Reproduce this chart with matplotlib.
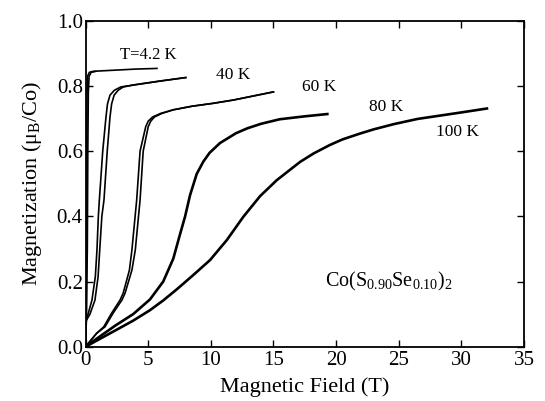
import matplotlib
matplotlib.use("Agg")
import matplotlib.pyplot as plt

# ---------------- data ----------------
# 4.2 K : two sweep branches
f42_a = [0, 0.03, 0.06, 0.08, 0.10, 0.12, 0.16, 0.30, 0.6, 1.0, 2.0, 3.0, 4.0, 5.7]
m42_a = [0, 0.04, 0.08, 0.30, 0.60, 0.78, 0.83, 0.842, 0.845, 0.846, 0.848, 0.850, 0.852, 0.854]
f42_b = [0, 0.03, 0.06, 0.14, 0.18, 0.22, 0.28, 0.45, 0.8]
m42_b = [0, 0.04, 0.08, 0.30, 0.60, 0.78, 0.83, 0.842, 0.845]

# 40 K
m40 = [0, 0.04, 0.08, 0.10, 0.143, 0.215, 0.297, 0.40, 0.45, 0.60, 0.705, 0.745, 0.772, 0.787, 0.797, 0.803, 0.815, 0.826]
f40_a = [0, 0.01, 0.03, 0.20, 0.51, 0.78, 0.91, 1.02, 1.10, 1.37, 1.63, 1.75, 1.95, 2.30, 2.80, 3.8, 5.9, 8.0]
f40_b = [0, 0.01, 0.05, 0.35, 0.75, 1.00, 1.13, 1.30, 1.47, 1.73, 1.95, 2.08, 2.28, 2.60, 3.00, 3.8, 5.9, 8.0]

# 60 K
m60 = [0, 0.041, 0.061, 0.103, 0.143, 0.164, 0.235, 0.297, 0.45, 0.60, 0.675, 0.692, 0.705, 0.716, 0.727, 0.738, 0.747, 0.757, 0.782]
f60_a = [0, 0.88, 1.45, 2.08, 2.75, 3.00, 3.50, 3.70, 4.08, 4.35, 4.80, 5.00, 5.35, 6.0, 7.0, 8.5, 10.2, 11.8, 15.0]
f60_b = [0, 0.88, 1.55, 2.20, 2.90, 3.15, 3.70, 3.97, 4.35, 4.60, 5.00, 5.20, 5.50, 6.1, 7.0, 8.5, 10.2, 11.8, 15.0]

# 80 K
f80 = [0, 1.2, 2.38, 3.8, 5.14, 6.2, 7.0, 7.54, 7.94, 8.34, 8.87, 9.4, 9.9, 10.73, 12.0, 12.9, 14.0, 15.5, 17.5, 19.3]
m80 = [0, 0.033, 0.065, 0.100, 0.145, 0.200, 0.270, 0.345, 0.399, 0.465, 0.530, 0.568, 0.595, 0.625, 0.655, 0.670, 0.684, 0.698, 0.707, 0.714]

# 100 K
f100 = [0, 2.38, 3.8, 5.14, 6.2, 7.28, 8.6, 9.94, 11.27, 12.6, 13.93, 15.26, 17.12, 18.2, 19.5,
        20.5, 21.9, 23.0, 24.6, 26.5, 28.6, 30.0, 32.04]
m100 = [0, 0.050, 0.080, 0.112, 0.142, 0.176, 0.220, 0.266, 0.327, 0.399, 0.462, 0.511, 0.567, 0.593, 0.619,
        0.636, 0.654, 0.667, 0.683, 0.699, 0.711, 0.719, 0.731]

x_ticks = [0, 5, 10, 15, 20, 25, 30, 35]
y_ticks = [0.0, 0.2, 0.4, 0.6, 0.8, 1.0]

# ---------------- style ----------------
plt.rcParams['font.family'] = ['Liberation Serif', 'DejaVu Serif']
plt.rcParams['mathtext.fontset'] = 'custom'
plt.rcParams['mathtext.rm'] = 'Liberation Serif'
plt.rcParams['mathtext.default'] = 'regular'

fig = plt.figure(figsize=(5.45, 4.01), dpi=100)
ax = fig.add_axes([0.157, 0.1354, 0.8045, 0.8126])

lw = 1.2
ax.plot(f42_a, m42_a, color='black', lw=lw)
ax.plot(f42_b, m42_b, color='black', lw=lw)
ax.plot(f40_a, m40, color='black', lw=lw)
ax.plot(f40_b, m40, color='black', lw=lw)
ax.plot(f60_a, m60, color='black', lw=lw)
ax.plot(f60_b, m60, color='black', lw=lw)
ax.plot(f80, m80, color='black', lw=1.9)
ax.plot(f100, m100, color='black', lw=1.9)

ax.set_xlim(0, 35)
ax.set_ylim(0, 1.0)
ax.set_xticks(x_ticks)
ax.set_yticks(y_ticks)
ax.set_yticklabels(['%.1f' % v for v in y_ticks])
ax.tick_params(direction='in', length=5, width=1.0, labelsize=15,
               top=True, right=True)
ax.tick_params(axis='y', pad=2)
ax.tick_params(axis='x', pad=3)
for s in ax.spines.values():
    s.set_linewidth(1.3)

ax.set_xlabel('Magnetic Field (T)', fontsize=16, labelpad=5)
ax.set_ylabel(r'Magnetization ($\mu_B$/Co)', fontsize=16, labelpad=9)

ax.text(2.75, 0.895, 'T=4.2 K', fontsize=12, va='center')
ax.text(10.4, 0.833, '40 K', fontsize=12.5, va='center')
ax.text(17.3, 0.797, '60 K', fontsize=12.5, va='center')
ax.text(22.6, 0.736, '80 K', fontsize=12.5, va='center')
ax.text(28.0, 0.66, '100 K', fontsize=12.5, va='center')
ax.text(19.1, 0.199, r'Co(S$_{0.90}$Se$_{0.10}$)$_2$', fontsize=14.5, va='center')

plt.savefig('out.png', dpi=100)
